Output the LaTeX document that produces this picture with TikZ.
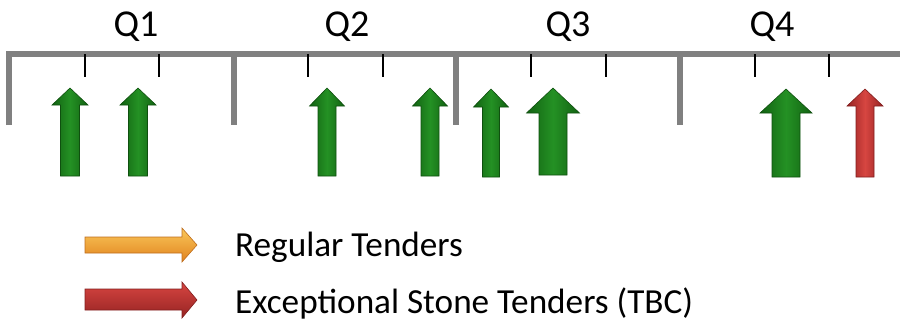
\documentclass[tikz,border=0pt]{standalone}
\usepackage{fontspec}
\setmainfont{Carlito}
\definecolor{gdark}{RGB}{18,98,18}
\definecolor{gmid}{RGB}{36,145,36}
\definecolor{gedge}{RGB}{15,80,15}
\definecolor{rdark}{RGB}{150,35,35}
\definecolor{rmid}{RGB}{215,70,65}
\definecolor{redge}{RGB}{130,30,30}
\definecolor{olight}{RGB}{250,200,90}
\definecolor{odark}{RGB}{225,130,30}
\definecolor{oedge}{RGB}{190,110,30}
\definecolor{axisgray}{RGB}{128,128,128}
\newcommand{\myuparrow}[8]{%
  \shade[left color=#8dark, right color=#8dark, middle color=#8mid, draw=#8edge, line width=0.6pt]
    (#1-#6,#4) -- (#1-#6,#3) -- (#1-#5,#3) -- (#1,#2) -- (#1+#5,#3) -- (#1+#6,#3) -- (#1+#6,#4) -- cycle;}
\begin{document}
\begin{tikzpicture}[x=1pt,y=-1pt,
  axisline/.style={draw=axisgray, line width=5.5pt},
  minortick/.style={draw=black, line width=2pt},
  qlabel/.style={font=\fontsize{38}{44}\selectfont, anchor=base, inner sep=0pt},
  legtext/.style={font=\fontsize{35.2}{42}\selectfont, anchor=base west, inner sep=0pt}]
\useasboundingbox (0,0) rectangle (900,327);
% axis
\draw[axisline, line join=miter] (9,125) -- (9,54) -- (900,54);
\foreach \x in {234,456,680} \draw[axisline] (\x,54) -- (\x,125);
\foreach \x in {85,159,308,383,531,606,755,829} \draw[minortick] (\x,54) -- (\x,77);
% labels
\node[qlabel] (q1) at (136,36) {Q1};
\node[qlabel] (q2) at (347,36) {Q2};
\node[qlabel] (q3) at (568,36) {Q3};
\node[qlabel] (q4) at (772,36) {Q4};
% arrows
\myuparrow{70}{88}{105}{176}{18}{9.5}{}{g}
\myuparrow{138}{88}{105}{176}{18}{9.5}{}{g}
\myuparrow{327}{88}{106}{176}{17.5}{9}{}{g}
\myuparrow{430}{88}{106}{176}{17.5}{9}{}{g}
\myuparrow{491}{89}{107}{177}{17.5}{8.5}{}{g}
\myuparrow{553}{88}{113}{175}{26.5}{14}{}{g}
\myuparrow{786}{89}{113}{177}{26}{14}{}{g}
\myuparrow{865}{89}{106}{177}{18}{9}{}{r}
% legend
\shade[top color=olight, bottom color=odark, draw=oedge, line width=0.6pt]
  (85,237) -- (182,237) -- (182,228) -- (197,245) -- (182,262) -- (182,253) -- (85,253) -- cycle;
\shade[top color=rmid, bottom color=rdark, draw=redge, line width=0.6pt]
  (85,289) -- (182,289) -- (182,282) -- (197,300) -- (182,318) -- (182,310) -- (85,310) -- cycle;
\node[legtext] (reg) at (235,256) {Regular Tenders};
\node[legtext] (exc) at (235,313) {Exceptional Stone Tenders (TBC)};
\end{tikzpicture}
\end{document}
